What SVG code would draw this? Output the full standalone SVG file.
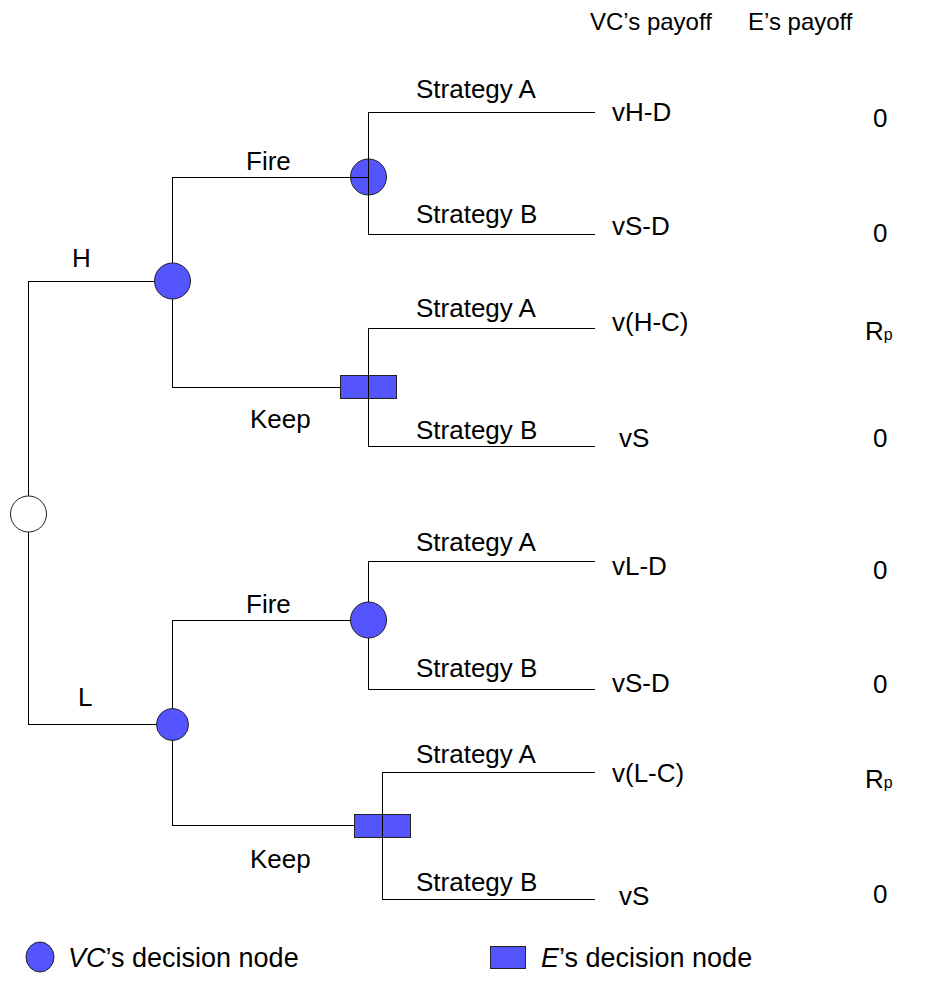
<svg xmlns="http://www.w3.org/2000/svg" width="940" height="1002" viewBox="0 0 940 1002">
<style>
text{font-family:"Liberation Sans",Arial,sans-serif;font-size:26px;fill:#000}
.hd{font-size:24px}
.lg{font-size:27px}
.ln{stroke:#000;stroke-width:1;fill:none}
.vc{fill:#5555ff;stroke:#222;stroke-width:1}
.ch{fill:#fff;stroke:#222;stroke-width:1}
</style>
<rect width="940" height="1002" fill="#fff"/>
<g id="header">
<text class="hd" x="590" y="30">VC’s payoff</text>
<text class="hd" x="748" y="30">E’s payoff</text>
</g>
<g id="connectors">
<path class="ln" d="M28.5,281 V724 M28,281.5 H160 M28,724.5 H160"/>
<path class="ln" d="M172.5,177 V387 M172,177.5 H368 M172,387.5 H340"/>
<path class="ln" d="M172.5,620 V825 M172,620.5 H352 M172,825.5 H354"/>
<path class="ln" d="M368.5,561 V689 M368,561.5 H595 M368,689.5 H595"/>
<path class="ln" d="M368,328.5 H595 M368,446.5 H595"/>
<path class="ln" d="M382,772.5 H595 M382,899.5 H595"/>
</g>
<g id="root"><circle class="ch" cx="28.5" cy="514" r="18"/></g>
<g id="nodeH"><circle class="vc" cx="172.5" cy="281" r="18"/></g>
<g id="nodeL"><circle class="vc" cx="172.5" cy="724.5" r="16"/></g>
<g id="nodeHFire"><circle class="vc" cx="368.5" cy="177" r="18"/><path class="ln" d="M368.5,112 V234 M350,177.5 H368 M368,112.5 H595 M368,234.5 H595"/></g>
<g id="nodeHKeep"><rect class="vc" x="340.5" y="375.5" width="56" height="23"/><path class="ln" d="M368.5,328 V446"/></g>
<g id="nodeLFire"><circle class="vc" cx="368.5" cy="620" r="18"/></g>
<g id="nodeLKeep"><rect class="vc" x="354.5" y="814.5" width="56" height="23"/><path class="ln" d="M382.5,772 V899"/></g>
<g id="labels">
<text x="72" y="267">H</text>
<text x="78" y="706">L</text>
<text x="246" y="170">Fire</text>
<text x="246" y="613">Fire</text>
<text x="250" y="428">Keep</text>
<text x="250" y="868">Keep</text>
<text x="416" y="98">Strategy A</text>
<text x="416" y="223">Strategy B</text>
<text x="416" y="317">Strategy A</text>
<text x="416" y="439">Strategy B</text>
<text x="416" y="551">Strategy A</text>
<text x="416" y="677">Strategy B</text>
<text x="416" y="763">Strategy A</text>
<text x="416" y="891">Strategy B</text>
</g>
<g id="payoffs">
<text x="612" y="121">vH-D</text>
<text x="612" y="235">vS-D</text>
<text x="612" y="331">v(H-C)</text>
<text x="619" y="447">vS</text>
<text x="612" y="575">vL-D</text>
<text x="612" y="692">vS-D</text>
<text x="612" y="782">v(L-C)</text>
<text x="619" y="905">vS</text>
<text x="873" y="127">0</text>
<text x="873" y="242">0</text>
<text x="865" y="340">R<tspan font-size="16">p</tspan></text>
<text x="873" y="447">0</text>
<text x="873" y="579">0</text>
<text x="873" y="693">0</text>
<text x="865" y="788">R<tspan font-size="16">p</tspan></text>
<text x="873" y="903">0</text>
</g>
<g id="legend">
<ellipse class="vc" cx="40" cy="957" rx="14" ry="15"/>
<text class="lg" x="68" y="967"><tspan font-style="italic">VC</tspan>’s decision node</text>
<rect class="vc" x="490.5" y="946.5" width="35" height="22"/>
<text class="lg" x="541" y="967"><tspan font-style="italic">E</tspan>’s decision node</text>
</g>
</svg>
